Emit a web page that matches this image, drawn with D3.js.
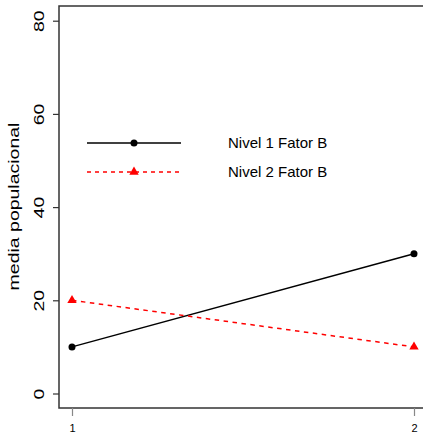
<!DOCTYPE html>
<html>
<head>
<meta charset="utf-8">
<script src="https://cdn.jsdelivr.net/npm/d3@7/dist/d3.min.js"></script>
<style>
  html, body { margin: 0; padding: 0; background: #fff; }
  svg { display: block; font-family: "Liberation Sans", Arial, sans-serif; }
</style>
</head>
<body>
<script>
// Factor A levels (x) and population means for each level of factor B
const levelsA = [1, 2];
const nivel1 = [10, 30];
const nivel2 = [20, 10];
const yTicks = [0, 20, 40, 60, 80];
const legendLabels = ["Nivel 1 Fator B", "Nivel 2 Fator B"];
const yLabel = "media populacional";

const W = 423, H = 439;
const svg = d3.select("body").append("svg").attr("width", W).attr("height", H);

// plotting region (box runs off the right edge)
const box = { left: 59, top: 6, bottom: 408, right: 440 };

const x = d3.scaleLinear().domain([1, 2]).range([72, 414]);
const y = d3.scaleLinear().domain([0, 80]).range([393.5, 20.7]);

// frame
svg.append("rect")
  .attr("x", box.left).attr("y", box.top)
  .attr("width", box.right - box.left).attr("height", box.bottom - box.top)
  .attr("fill", "none").attr("stroke", "#333").attr("stroke-width", 1.5);

// y axis with vertical (rotated) labels, slightly stretched along their length
const yAxis = d3.axisLeft(y).tickValues(yTicks).tickSize(6).tickSizeOuter(0).tickPadding(0);
const gy = svg.append("g").attr("transform", `translate(${box.left},0)`).call(yAxis);
gy.select(".domain").remove();
gy.selectAll(".tick line").attr("stroke", "#333").attr("stroke-width", 1.2);
gy.selectAll(".tick text")
  .attr("font-size", 15).attr("fill", "#000")
  .attr("text-anchor", "middle")
  .attr("transform", "rotate(-90) scale(1.3,1)")
  .attr("x", 0).attr("y", -15).attr("dy", 0);

// x axis
const xAxis = d3.axisBottom(x).tickValues(levelsA).tickFormat(d3.format("d"))
  .tickSize(8).tickSizeOuter(0).tickPadding(8);
const gx = svg.append("g").attr("transform", `translate(0,${box.bottom})`).call(xAxis);
gx.select(".domain").remove();
gx.selectAll(".tick line").attr("stroke", "#888").attr("stroke-width", 1.2);
gx.selectAll(".tick text").attr("font-size", 11).attr("fill", "#000");

// y label
svg.append("text")
  .attr("transform", `translate(19,206.5) rotate(-90) scale(1.3,1)`)
  .attr("text-anchor", "middle")
  .attr("font-size", 15)
  .text(yLabel);

const line = d3.line().x((d, i) => x(levelsA[i])).y(d => y(d));

// Nivel 1: solid black with filled circles
svg.append("path").datum(nivel1).attr("d", line)
  .attr("fill", "none").attr("stroke", "#000").attr("stroke-width", 1.5);
svg.selectAll(".p1").data(nivel1).enter().append("circle")
  .attr("cx", (d, i) => x(levelsA[i])).attr("cy", d => y(d)).attr("r", 3.5).attr("fill", "#000");

// Nivel 2: dashed red with filled triangles
const tri = d3.symbol().type(d3.symbolTriangle).size(38);
svg.append("path").datum(nivel2).attr("d", line)
  .attr("fill", "none").attr("stroke", "#f00").attr("stroke-width", 1.5)
  .attr("stroke-dasharray", "4.5,4.5");
svg.selectAll(".p2").data(nivel2).enter().append("path")
  .attr("d", tri)
  .attr("transform", (d, i) => `translate(${x(levelsA[i])},${y(d)})`)
  .attr("fill", "#f00");

// legend
const lg = svg.append("g");
const rows = [
  { y: 143, color: "#000", dash: null, sym: "circle" },
  { y: 172, color: "#f00", dash: "4,4", sym: "triangle" }
];
rows.forEach((r, i) => {
  lg.append("line").attr("x1", 87).attr("x2", 181).attr("y1", r.y).attr("y2", r.y)
    .attr("stroke", r.color).attr("stroke-width", 1.5)
    .attr("stroke-dasharray", r.dash);
  if (r.sym === "circle") {
    lg.append("circle").attr("cx", 134).attr("cy", r.y).attr("r", 3.5).attr("fill", r.color);
  } else {
    lg.append("path").attr("d", tri).attr("transform", `translate(134,${r.y})`).attr("fill", r.color);
  }
  lg.append("text").attr("x", 228).attr("y", r.y).attr("dy", "0.35em")
    .attr("font-size", 15).text(legendLabels[i]);
});
</script>
</body>
</html>
